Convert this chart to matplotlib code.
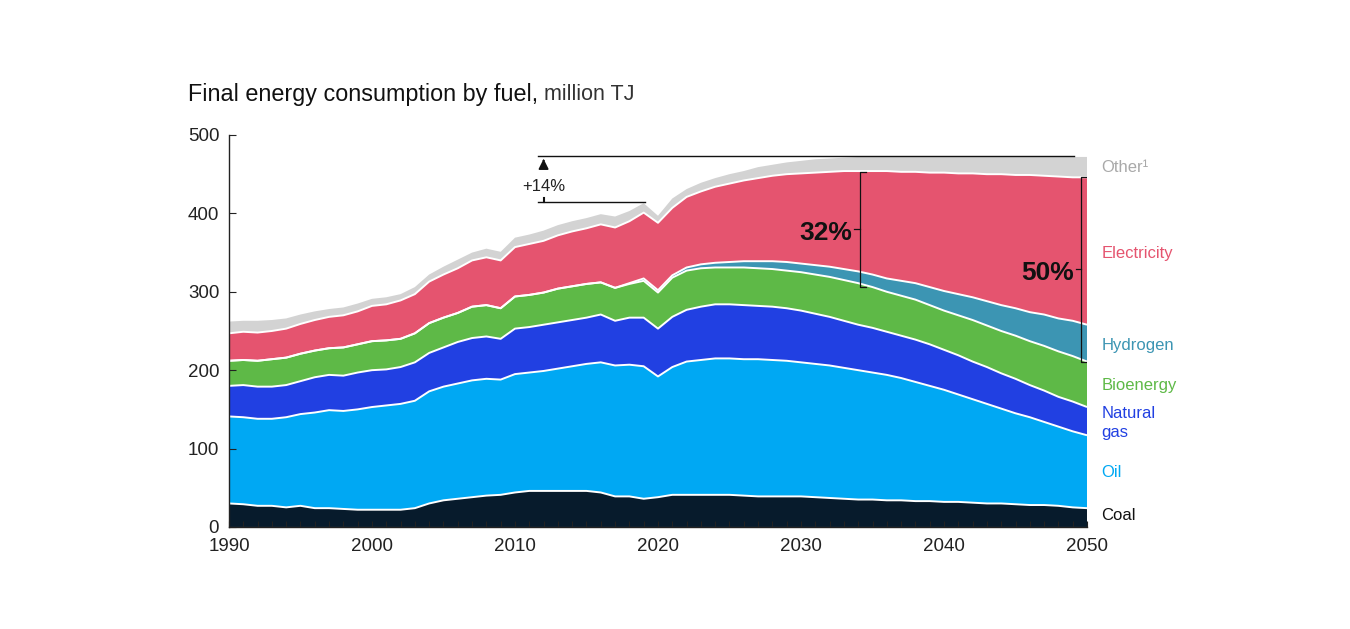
import matplotlib
matplotlib.use("Agg")
import matplotlib.pyplot as plt
import numpy as np

plt.rcParams['font.family'] = ['Liberation Sans', 'DejaVu Sans']

years = list(range(1990, 2051))

# million TJ per fuel
coal = [30, 29, 27, 27, 25, 27, 24, 24, 23, 22, 22, 22, 22, 24, 30, 34, 36, 38, 40, 41,
        44, 46, 46, 46, 46, 46, 44, 39, 39, 36, 38, 41, 41, 41, 41, 41, 40, 39, 39, 39,
        39, 38, 37, 36, 35, 35, 34, 34, 33, 33, 32, 32, 31, 30, 30, 29, 28, 28, 27, 25, 24]
oil = [111, 111, 111, 111, 115, 117, 122, 125, 125, 128, 131, 133, 135, 137, 143, 145, 147, 149, 149, 147,
       151, 151, 153, 156, 159, 162, 166, 167, 168, 169, 154, 163, 170, 172, 174, 174, 174, 175, 174, 173,
       171, 170, 169, 167, 165, 162, 160, 156, 152, 147, 143, 137, 132, 127, 121, 116, 112, 106, 101, 97, 93]
gas = [39, 41, 41, 41, 41, 42, 45, 45, 45, 47, 47, 46, 47, 49, 49, 50, 53, 54, 54, 52,
       58, 58, 59, 59, 59, 59, 61, 57, 60, 62, 61, 64, 66, 68, 69, 69, 69, 68, 68, 67,
       66, 64, 62, 60, 58, 57, 55, 54, 54, 53, 51, 50, 48, 47, 45, 44, 41, 40, 38, 38, 36]
bio = [32, 32, 33, 35, 35, 35, 34, 34, 36, 36, 37, 37, 36, 37, 38, 38, 37, 40, 40, 39,
       41, 41, 41, 43, 43, 43, 41, 42, 43, 47, 46, 50, 50, 49, 47, 47, 48, 48, 48, 48,
       49, 50, 51, 52, 53, 52, 51, 51, 51, 50, 50, 51, 53, 53, 54, 55, 56, 57, 58, 58, 58]
hydrogen = [0, 0, 0, 0, 0, 0, 0, 0, 0, 0, 0, 0, 0, 0, 0, 0, 0, 0, 0, 0,
            0, 0, 0, 0, 0, 0, 0, 0, 1, 3, 3, 3, 4, 5, 6, 7, 8, 9, 10, 11,
            11, 12, 13, 14, 15, 16, 17, 19, 21, 23, 25, 27, 29, 31, 33, 35, 37, 40, 42, 45, 47]
electricity = [35, 36, 36, 36, 37, 38, 39, 40, 41, 42, 45, 46, 49, 50, 53, 55, 57, 59, 61, 61,
               63, 65, 66, 68, 70, 71, 74, 77, 79, 84, 86, 86, 90, 93, 97, 100, 103, 106, 109, 112,
               115, 118, 121, 125, 128, 132, 137, 139, 142, 146, 151, 154, 158, 162, 167, 170, 175, 177, 181, 183, 188]
other = [15, 14, 15, 14, 13, 12, 11, 10, 10, 10, 9, 9, 8, 9, 9, 10, 11, 10, 11, 11,
         12, 12, 13, 13, 13, 13, 13, 14, 13, 12, 9, 12, 10, 11, 11, 12, 12, 14, 14, 15,
         16, 17, 17, 17, 18, 18, 18, 19, 19, 20, 20, 21, 21, 22, 22, 23, 23, 24, 25, 26, 26]

labels = ['Coal', 'Oil', 'Natural\ngas', 'Bioenergy', 'Hydrogen', 'Electricity', 'Other¹']
colors = ['#071b2c', '#00a8f3', '#2140e2', '#5eb947', '#3c95b3', '#e5546f', '#d3d3d3']
label_colors = ['#111111', '#00a8f3', '#2140e2', '#5eb947', '#3c95b3', '#e5546f', '#a9a9a9']
label_y = [15, 70, 133, 181, 232, 349, 459]

fig = plt.figure(figsize=(13.5, 6.29), dpi=100)
ax = fig.add_axes([0.1696, 0.1622, 0.6356, 0.6232])

series = [coal, oil, gas, bio, hydrogen, electricity, other]
ax.stackplot(years, *series, colors=colors, linewidth=0)

# white separators between the layers
tops = np.cumsum(np.array(series, dtype=float), axis=0)
for row in tops[:-1]:
    ax.plot(years, row, color='white', lw=1.4, solid_capstyle='butt')

ax.set_xlim(1990, 2050)
ax.set_ylim(0, 500)
for s in ['top', 'right']:
    ax.spines[s].set_visible(False)
for s in ['left', 'bottom']:
    ax.spines[s].set_color('#222222')
    ax.spines[s].set_linewidth(1.0)
    ax.spines[s].set_zorder(5)

ax.set_xticks(range(1990, 2051, 10))
ax.set_xticks(range(1990, 2051, 1), minor=True)
ax.set_yticks(range(0, 501, 100))
ax.tick_params(axis='x', which='both', direction='in', length=4, width=0.8,
               color='#222222', labelsize=13.5, pad=8, labelcolor='#222222')
ax.tick_params(axis='y', direction='in', length=5, width=0.8, color='#222222',
               labelsize=13.5, pad=7, labelcolor='#222222')

# series labels on the right
for lab, col, y in zip(labels, label_colors, label_y):
    ax.text(2051.0, y, lab, color=col, fontsize=12, va='center', ha='left',
            linespacing=1.35, clip_on=False)

# +14% annotation
ax.plot([2011.6, 2049.1], [473, 473], color='#111111', lw=1.0, clip_on=False)
ax.plot([2011.6, 2019.1], [415, 415], color='#111111', lw=1.0)
ax.annotate('', xy=(2012.0, 473), xytext=(2012.0, 463),
            arrowprops=dict(arrowstyle='-|>,head_width=0.3,head_length=0.6',
                            color='#111111', lw=1.2))
ax.plot([2012.0, 2012.0], [415, 419], color='#111111', lw=1.5)
ax.text(2012.0, 434, '+14%', ha='center', va='center', fontsize=12, color='#222222')


def bracket(x, y0, y1, text):
    ax.plot([x + 0.45, x, x, x + 0.45], [y1, y1, y0, y0], color='#111111', lw=0.9)
    ym = (y0 + y1) / 2
    ax.plot([x - 0.4, x], [ym, ym], color='#111111', lw=0.9)
    ax.text(x - 0.5, ym - 4, text, ha='right', va='center', fontsize=19,
            fontweight='bold', color='#111111')


bracket(2034.1, 306, 453, '32%')
bracket(2049.6, 211, 446, '50%')

# title in two weights
renderer = fig.canvas.get_renderer()
t1 = fig.text(188 / 1350, 1 - 95 / 629, 'Final energy consumption by fuel,',
              fontsize=16.8, va='center', ha='left', color='#111111')
bb = t1.get_window_extent(renderer)
fig.text((bb.x1 + 6) / 1350, 1 - 95 / 629, 'million TJ', fontsize=15.5,
         va='center', ha='left', color='#333333')

fig.savefig('out.png', dpi=100)
